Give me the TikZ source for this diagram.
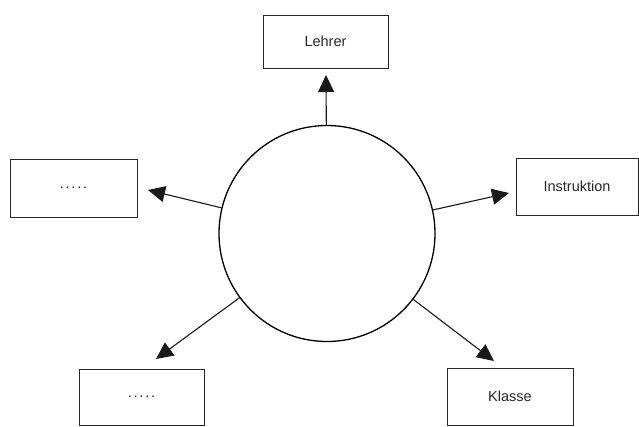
\documentclass[tikz,border=0pt]{standalone}
\usepackage{fontspec}
\setmainfont{Liberation Sans}
\usetikzlibrary{arrows.meta}
\begin{document}
\begin{tikzpicture}[x=1pt,y=-1pt,
  box/.style={draw=black!85,line width=0.9pt,rectangle,inner sep=0pt,font=\fontsize{14.5}{16}\selectfont,text=black!85},
  hub/.style={draw=black,line width=1.3pt,circle,inner sep=0pt,minimum size=216pt},
  arr/.style={draw=black!90,line width=1.1pt,-{Triangle[length=17pt,width=16pt]}}]
\useasboundingbox (0,0) rectangle (639,426);
\fill[white] (0,0) rectangle (639,426);
\node[hub] (c) at (327,233.5) {};
\node[box,minimum width=125pt,minimum height=53pt] (lehrer) at (325.5,41.5) {Lehrer};
\node[box,minimum width=122pt,minimum height=57pt] (instr) at (577,186.5) {Instruktion};
\node[box,minimum width=127pt,minimum height=58pt] (dl) at (73.5,188) {.\kern1.8pt.\kern1.8pt.\kern1.8pt.\kern1.8pt.};
\node[box,minimum width=125pt,minimum height=56pt] (db) at (141.5,397) {.\kern1.8pt.\kern1.8pt.\kern1.8pt.\kern1.8pt.};
\node[box,minimum width=126pt,minimum height=57pt] (klasse) at (510,396.5) {Klasse};
\coordinate (tu) at (326,75);
\coordinate (tr) at (509,193);
\coordinate (tl) at (148,190);
\coordinate (tbl) at (156,359);
\coordinate (tbr) at (494,361);
\draw[arr] (c) -- (tu);
\draw[arr] (c) -- (tr);
\draw[arr] (c) -- (tl);
\draw[arr] (c) -- (tbl);
\draw[arr] (c) -- (tbr);
\end{tikzpicture}
\end{document}
